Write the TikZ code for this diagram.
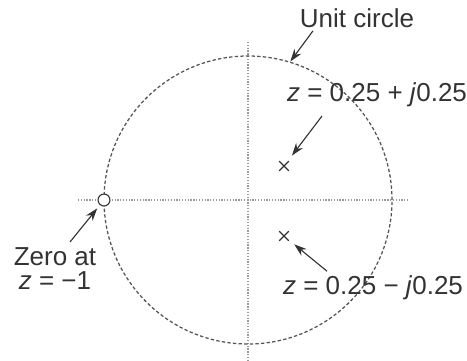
\documentclass[tikz,border=0pt]{standalone}
\usepackage{fontspec}
\setmainfont{Liberation Sans}
\usepackage{tikz}
\usetikzlibrary{arrows.meta,shapes.misc}
\usepackage{xcolor}
\definecolor{circlec}{HTML}{555555}
\definecolor{axisc}{HTML}{9A9A9A}
\definecolor{inkc}{HTML}{333333}
\tikzset{
  unitc/.style={draw=circlec, line width=0.9pt, dash pattern=on 2.4pt off 1.6pt},
  axisline/.style={draw=axisc, line width=1pt, dash pattern=on 0.9pt off 1.1pt},
  pointer/.style={draw=inkc, line width=0.8pt, -{Stealth[length=9pt,width=6pt]}},
  pole/.style={cross out, draw=inkc, line width=0.8pt, minimum size=6pt, inner sep=0pt},
  zeromark/.style={circle, draw=inkc, line width=0.8pt, fill=white, minimum size=8.5pt, inner sep=0pt},
  lbl/.style={text=inkc, font=\fontsize{18.5}{20}\selectfont, inner sep=0pt, align=center},
}

\begin{document}
\begin{tikzpicture}
\useasboundingbox (-6.200,-4.000) rectangle (5.475,5.000);
% axes and unit circle
\draw[axisline] (-4.250,0) -- (4.000,0);
\draw[axisline] (0,3.950) -- (0,-4.000);
\draw[unitc] (0,0) circle (3.600);
% poles and zero
\node[pole] (p1) at (0.900,0.850) {};
\node[pole] (p2) at (0.900,-0.900) {};
\node[zeromark] (z1) at (-3.600,0) {};
% labels
\node[lbl] (ucl) at (2.725,4.550) {Unit circle};
\node[lbl] (p1l) at (3.225,2.630) {\textit{z} = 0.25 + \textit{j}0.25};
\node[lbl] (p2l) at (3.125,-2.200) {\textit{z} = 0.25 − \textit{j}0.25};
\node[lbl] (z1l) at (-4.825,-1.720) {Zero at\\[-3pt]\textit{z} = −1};
\coordinate (ucH) at (73:3.620);
\coordinate (ucT) at (1.625,4.230);
\coordinate (p1T) at (1.850,2.100);
\coordinate (p2T) at (1.975,-1.780);
\coordinate (z1T) at (-4.450,-1.050);
% pointers
\draw[pointer] (ucT) -- (ucH);
\draw[pointer, shorten >=5pt] (p1T) -- (p1);
\draw[pointer, shorten >=5pt] (p2T) -- (p2);
\draw[pointer, shorten >=3pt] (z1T) -- (z1);
\end{tikzpicture}
\end{document}
